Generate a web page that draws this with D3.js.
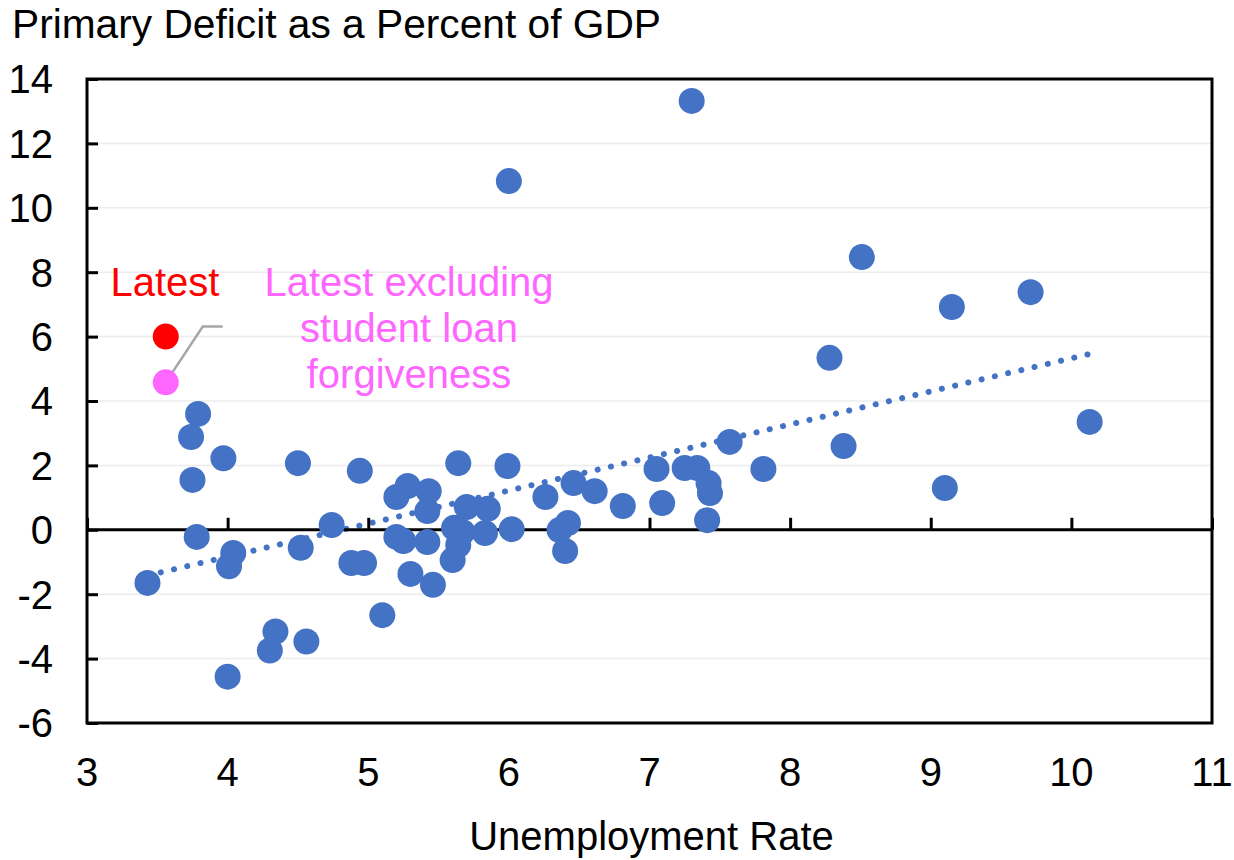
<!DOCTYPE html>
<html>
<head>
<meta charset="utf-8">
<script src="https://cdn.jsdelivr.net/npm/d3@7"></script>
<style>
  html, body { margin: 0; padding: 0; background: #fff; }
  svg { display: block; font-family: "Liberation Sans", Arial, sans-serif; }
</style>
</head>
<body>
<svg id="chart" width="1234" height="860"></svg>
<script>
// ---- Data ----
const unemployment = [
  3.43, 3.74, 3.79, 3.75, 3.78, 3.97, 4.04, 4.01, 4.00, 4.34,
  4.30, 4.56, 4.50, 4.52, 4.74, 4.94, 4.88, 4.97, 5.10, 5.20,
  5.28, 5.20, 5.25, 5.30, 5.43, 5.42, 5.42, 5.46, 5.64, 5.61,
  5.64, 5.60, 5.70, 5.67, 5.85, 5.83, 5.99, 6.02, 6.00, 6.26,
  6.46, 6.61, 6.81, 6.36, 6.42, 6.40, 7.05, 7.09, 7.25, 7.34,
  7.42, 7.43, 7.41, 7.57, 7.81, 7.30, 8.51, 9.15, 9.71, 8.28,
  8.38, 9.10, 10.13
];
const primaryDeficit = [
  -1.65, 2.88, 3.60, 1.55, -0.22, 2.22, -0.72, -1.13, -4.56, -3.16,
  -3.75, -3.47, 2.07, -0.56, 0.15, 1.83, -1.03, -1.03, -2.65, 1.02,
  1.36, -0.22, -0.35, -1.37, 1.20, 0.58, -0.38, -1.71, 2.07, 0.06,
  -0.47, -0.94, 0.71, -0.07, 0.65, -0.10, 1.98, 0.02, 10.83, 1.02,
  1.45, 1.20, 0.74, -0.01, 0.21, -0.66, 1.89, 0.83, 1.92, 1.92,
  1.45, 1.14, 0.30, 2.73, 1.89, 13.32, 8.47, 6.92, 7.38, 5.34,
  2.60, 1.30, 3.35
];
const latestPoint = [3.56, 6.00];
const latestExclPoint = [3.56, 4.58];
const trendX = [3.43, 10.13];
const trendY = [-1.42, 5.46];
const xTicks = [3, 4, 5, 6, 7, 8, 9, 10, 11];
const yTicks = [-6, -4, -2, 0, 2, 4, 6, 8, 10, 12, 14];
const titleText = "Primary Deficit as a Percent of GDP";
const xLabelText = "Unemployment Rate";
const latestLabel = "Latest";
const latestExclLabel = ["Latest excluding", "student loan", "forgiveness"];

// ---- Layout ----
const svg = d3.select("#chart");
const W = 1234, H = 860;
const plot = { left: 87, right: 1212, top: 79, bottom: 723 };
const x = d3.scaleLinear().domain([3, 11]).range([plot.left, plot.right]);
const y = d3.scaleLinear().domain([-6, 14]).range([plot.bottom, plot.top]);

svg.append("rect").attr("width", W).attr("height", H).attr("fill", "#fff");

// gridlines
svg.append("g").selectAll("line")
  .data(yTicks.filter(d => d !== 0 && d !== 14 && d !== -6))
  .join("line")
  .attr("x1", plot.left).attr("x2", plot.right)
  .attr("y1", d => y(d)).attr("y2", d => y(d))
  .attr("stroke", "#ececec").attr("stroke-width", 1.5);

// trend line (dotted)
svg.append("line")
  .attr("x1", x(trendX[0])).attr("y1", y(trendY[0]))
  .attr("x2", x(trendX[1])).attr("y2", y(trendY[1]))
  .attr("stroke", "#4472C4").attr("stroke-width", 6)
  .attr("stroke-linecap", "round")
  .attr("stroke-dasharray", "0.1 13.5");

// zero line with upward ticks
const zeroAxis = d3.axisTop(x).tickValues(xTicks).tickSize(12).tickFormat("");
const gz = svg.append("g").attr("transform", `translate(0,${y(0)})`).call(zeroAxis);
gz.select(".domain").remove();
gz.selectAll("line").attr("stroke", "#000").attr("stroke-width", 3);
svg.append("line")
  .attr("x1", plot.left).attr("x2", plot.right)
  .attr("y1", y(0)).attr("y2", y(0))
  .attr("stroke", "#000").attr("stroke-width", 3);

// y axis ticks (inward)
const yAxis = d3.axisRight(y).tickValues(yTicks).tickSize(11).tickFormat("");
const gy = svg.append("g").attr("transform", `translate(${plot.left},0)`).call(yAxis);
gy.select(".domain").remove();
gy.selectAll("line").attr("stroke", "#000").attr("stroke-width", 3);

// y tick labels
svg.append("g").selectAll("text")
  .data(yTicks).join("text")
  .attr("x", 53).attr("y", d => y(d))
  .attr("dy", "0.36em")
  .attr("text-anchor", "end")
  .attr("font-size", 40).attr("fill", "#000")
  .text(d => d);

// x tick labels
svg.append("g").selectAll("text")
  .data(xTicks).join("text")
  .attr("x", d => x(d)).attr("y", 786)
  .attr("text-anchor", "middle")
  .attr("font-size", 40).attr("fill", "#000")
  .text(d => d);

// plot border
svg.append("rect")
  .attr("x", plot.left).attr("y", plot.top)
  .attr("width", plot.right - plot.left).attr("height", plot.bottom - plot.top)
  .attr("fill", "none").attr("stroke", "#000").attr("stroke-width", 3);

// data points
svg.append("g").selectAll("circle")
  .data(unemployment.map((u, i) => [u, primaryDeficit[i]]))
  .join("circle")
  .attr("cx", d => x(d[0])).attr("cy", d => y(d[1]))
  .attr("r", 13)
  .attr("fill", "#4472C4");

// connector from excl point to its label
svg.append("path")
  .attr("d", d3.line()([
    [x(latestExclPoint[0]), y(latestExclPoint[1])],
    [x(latestExclPoint[0]) + 37, y(latestPoint[1]) - 10],
    [x(latestExclPoint[0]) + 57, y(latestPoint[1]) - 10]
  ]))
  .attr("fill", "none").attr("stroke", "#a6a6a6").attr("stroke-width", 2.5);

// latest points
svg.append("circle")
  .attr("cx", x(latestPoint[0])).attr("cy", y(latestPoint[1]))
  .attr("r", 13).attr("fill", "#FF0000");
svg.append("circle")
  .attr("cx", x(latestExclPoint[0])).attr("cy", y(latestExclPoint[1]))
  .attr("r", 13).attr("fill", "#FF66FF");

// annotation labels
svg.append("text")
  .attr("x", 165).attr("y", 296)
  .attr("text-anchor", "middle")
  .attr("font-size", 40).attr("fill", "#FF0000")
  .text(latestLabel);
svg.append("g").selectAll("text")
  .data(latestExclLabel).join("text")
  .attr("x", 409).attr("y", (d, i) => 296 + i * 46)
  .attr("text-anchor", "middle")
  .attr("font-size", 40).attr("fill", "#FF66FF")
  .text(d => d);

// title
svg.append("text")
  .attr("x", 12).attr("y", 38)
  .attr("font-size", 40.7).attr("fill", "#000")
  .text(titleText);

// x axis label
svg.append("text")
  .attr("x", (plot.left + plot.right) / 2 + 2).attr("y", 850)
  .attr("text-anchor", "middle")
  .attr("font-size", 40).attr("fill", "#000")
  .text(xLabelText);
</script>
</body>
</html>
